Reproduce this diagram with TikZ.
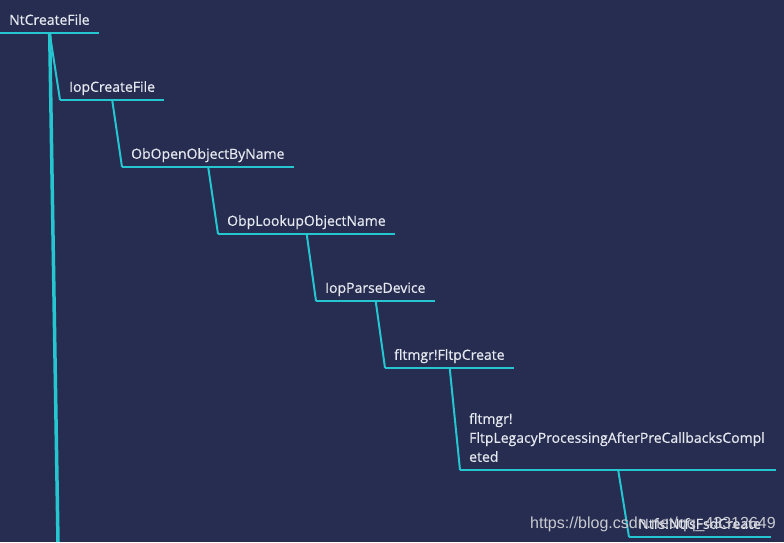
\documentclass[tikz,border=0pt]{standalone}
\usepackage{fontspec}
\setmainfont{Open Sans}[FakeBold=0.6]
\newfontfamily\wmfont{Liberation Sans}
\usepackage{tikz}
\definecolor{bgnavy}{HTML}{262D51}
\definecolor{linecyan}{HTML}{25C6D0}
\definecolor{labelgray}{HTML}{E6E8EF}
\definecolor{wmgray}{HTML}{C9CAD0}

\begin{document}
\begin{tikzpicture}[x=1pt,y=1pt,font=\fontsize{14}{19}\selectfont,
  call/.style={anchor=south west,inner xsep=9pt,inner ysep=8pt,text depth=0pt,align=left,text=labelgray},
  branch/.style={draw=linecyan,line width=2pt}]
\fill[bgnavy] (0,0) rectangle (784,-542);
\useasboundingbox (0,0) rectangle (784,-542);
% call chain
\node(ntc)[call,text width=81pt] at (0,-33){NtCreateFile};
\node(icf)[call,text width=86pt] at (60,-100){IopCreateFile};
\node(oob)[call,text width=154pt] at (122,-167){ObOpenObjectByName};
\node(olo)[call,text width=159pt] at (218,-234){ObpLookupObjectName};
\node(ipd)[call,text width=101pt] at (316,-301){IopParseDevice};
\node(ffc)[call,text width=111pt] at (385,-368){fltmgr!FltpCreate};
\node(flp)[call,text width=298pt,text depth=38pt] at (460,-470){fltmgr!\\FltpLegacyProcessingAfterPreCallbacksCompl\\eted};
\node(nfc)[call,text width=124pt] at (629,-537){Ntfs!NtfsFsdCreate};
\foreach \n in {ntc,icf,oob,olo,ipd,ffc,flp,nfc}
  \draw[branch] (\n.south west)--(\n.south east);
% links
\coordinate(trunkend) at (58,-542);
\draw[branch,line width=3.5pt] (ntc.south)--(trunkend);
\draw[branch] (ntc.south)--(icf.south west);
\draw[branch] (icf.south)--(oob.south west);
\draw[branch] (oob.south)--(olo.south west);
\draw[branch] (olo.south)--(ipd.south west);
\draw[branch] (ipd.south)--(ffc.south west);
\draw[branch] (ffc.south)--(flp.south west);
\draw[branch] (flp.south)--(nfc.south west);
\node(wm)[anchor=base west,inner sep=0pt,text=wmgray,font=\wmfont\fontsize{16}{18}\selectfont] at (530,-528){https://blog.csdn.net/qq\_43312649};
\end{tikzpicture}
\end{document}
